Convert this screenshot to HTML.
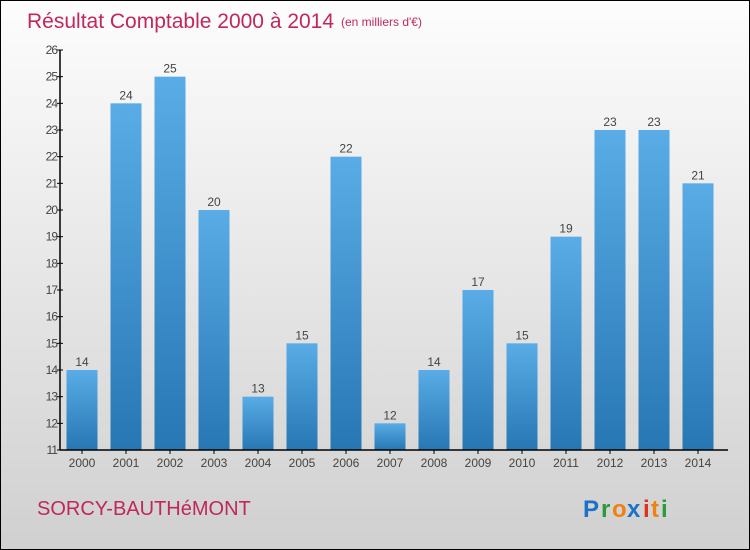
<!DOCTYPE html>
<html><head><meta charset="utf-8"><style>
body{margin:0}
#c{position:relative;width:748px;height:548px;border:1px solid #000;background:linear-gradient(#fdfdfd,#d0d0d0);font-family:"Liberation Sans",sans-serif;overflow:hidden}
</style></head><body>
<div id="c">
<svg width="748" height="548" xmlns="http://www.w3.org/2000/svg" id="s">
<defs><linearGradient id="g" x1="0" y1="0" x2="0" y2="1"><stop offset="0" stop-color="#5aace6"/><stop offset="1" stop-color="#2677b4"/></linearGradient></defs>
<text x="26" y="27" font-size="21" fill="#c0285a">Résultat Comptable 2000 à 2014</text>
<text x="340" y="25" font-size="12" fill="#c0285a">(en milliers d'€)</text>
<text x="36" y="514" font-size="20" fill="#c0285a">SORCY-BAUTHéMONT</text>
<g font-size="24" font-weight="bold" font-family="Liberation Sans, sans-serif">
<text x="582" y="516" fill="#1a73c8">P</text><text x="600" y="516" fill="#2a9a3a">r</text><text x="611" y="516" fill="#f08010">o</text><text x="626" y="516" fill="#1a73c8">x</text><text x="642" y="516" fill="#e03020">i</text><text x="650" y="516" fill="#f08010">t</text><text x="660" y="516" fill="#2a9a3a">i</text>
</g>
<g id="plot"></g>
</svg>
</div>
<script>
const years=["2000","2001","2002","2003","2004","2005","2006","2007","2008","2009","2010","2011","2012","2013","2014"];
const values=[14,24,25,20,13,15,22,12,14,17,15,19,23,23,21];
const yTicks=[11,12,13,14,15,16,17,18,19,20,21,22,23,24,25,26];
const yMin=11,yMax=26,plotTop=49,plotBottom=449,axisX=59,x0=81,step=44,bw=31;
const ns="http://www.w3.org/2000/svg";
const p=document.getElementById('plot');
const Y=v=>plotBottom-(v-yMin)/(yMax-yMin)*(plotBottom-plotTop);
const X=i=>x0+i*step;
function mk(t,a){const e=document.createElementNS(ns,t);for(const k in a)e.setAttribute(k,a[k]);p.appendChild(e);return e;}
years.forEach((y,i)=>{
 const r=mk('rect',{x:X(i)-bw/2,y:Y(values[i]),width:bw,height:plotBottom-Y(values[i]),fill:'url(#g)'});
 
 
 const t=mk('text',{x:X(i),y:Y(values[i])-4,'font-size':12,fill:'#444','text-anchor':'middle'});
 t.textContent=values[i];
 
 
 const xl=mk('text',{x:X(i),y:plotBottom+17,'font-size':12,fill:'#444','text-anchor':'middle'});
 xl.textContent=y;
 
 
 const tk=mk('line',{x1:X(i),x2:X(i),y1:plotBottom,y2:plotBottom+4,stroke:'#000'});
 
 
});
yTicks.forEach(v=>{
 const l=mk('line',{x1:axisX-3,x2:axisX+3,y1:Y(v),y2:Y(v),stroke:'#000'});
 
 
 const t=mk('text',{x:axisX-3,y:Y(v)+4,'font-size':12,fill:'#444','text-anchor':'end','letter-spacing':'-1'});
 t.textContent=v;
 
 
});
const ya=mk('line',{x1:axisX,x2:axisX,y1:plotTop,y2:plotBottom,stroke:'#000','stroke-width':1.5});


const xa=mk('line',{x1:axisX,x2:727,y1:plotBottom,y2:plotBottom,stroke:'#000','stroke-width':1.5});


</script>
</body></html>
